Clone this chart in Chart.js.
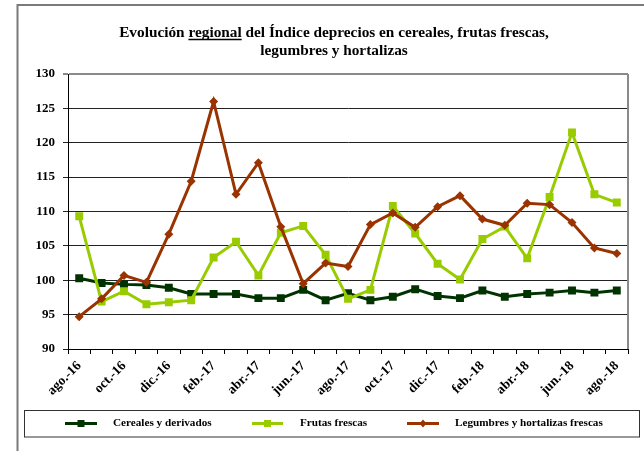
<!DOCTYPE html>
<html>
<head>
<meta charset="utf-8">
<script src="https://cdn.jsdelivr.net/npm/chart.js@4/dist/chart.umd.min.js"></script>
<style>
  html, body { margin: 0; padding: 0; background: #fff; }
  #wrap { width: 644px; height: 451px; position: relative; }
</style>
</head>
<body>
<div id="wrap"><canvas id="c" width="644" height="451"></canvas></div>
<script>
const titleLine1 = 'Evolución regional del Índice deprecios en cereales, frutas frescas,';
const titleLine2 = 'legumbres y hortalizas';
const underlinedWord = 'regional';

const months = ['ago.-16','sep.-16','oct.-16','nov.-16','dic.-16','ene.-17','feb.-17','mar.-17','abr.-17','may.-17','jun.-17','jul.-17','ago.-17','sep.-17','oct.-17','nov.-17','dic.-17','ene.-18','feb.-18','mar.-18','abr.-18','may.-18','jun.-18','jul.-18','ago.-18'];

const cereales  = [100.3, 99.6, 99.4, 99.3, 98.9, 98.0, 98.0, 98.0, 97.4, 97.4, 98.6, 97.1, 98.1, 97.1, 97.6, 98.7, 97.7, 97.4, 98.5, 97.6, 98.0, 98.2, 98.5, 98.2, 98.5];
const frutas    = [109.3, 96.9, 98.4, 96.5, 96.8, 97.1, 103.3, 105.6, 100.7, 106.9, 107.9, 103.7, 97.3, 98.6, 110.8, 106.8, 102.4, 100.1, 106.0, 107.8, 103.2, 112.1, 121.5, 112.5, 111.3];
const legumbres = [94.7, 97.3, 100.7, 99.7, 106.7, 114.4, 126.0, 112.5, 117.1, 107.8, 99.5, 102.5, 102.0, 108.1, 109.8, 107.7, 110.7, 112.3, 108.9, 108.0, 111.2, 111.0, 108.4, 104.7, 103.9];

const seriesNames = ['Cereales y derivados', 'Frutas frescas', 'Legumbres y hortalizas frescas'];
const yMin = 90, yMax = 130, yStep = 5;

const SERIF = '"Liberation Serif", "Times New Roman", serif';

const framePlugin = {
  id: 'frame',
  beforeDraw(chart) {
    const ctx = chart.ctx;
    ctx.save();
    ctx.fillStyle = '#fff';
    ctx.fillRect(0, 0, chart.width, chart.height);
    ctx.strokeStyle = '#7a7a7a';
    ctx.lineWidth = 2;
    ctx.beginPath();
    ctx.moveTo(17.5, chart.height + 2);
    ctx.lineTo(17.5, 5);
    ctx.lineTo(chart.width + 2, 5);
    ctx.stroke();
    ctx.restore();
  },
  afterDraw(chart) {
    const ctx = chart.ctx;
    const a = chart.chartArea;
    ctx.save();
    ctx.strokeStyle = '#8a8a8a';
    ctx.lineWidth = 2;
    ctx.beginPath();
    ctx.moveTo(a.right, a.top);
    ctx.lineTo(a.right, a.bottom);
    ctx.stroke();

    // title
    ctx.fillStyle = '#000';
    ctx.font = 'bold 15.3px ' + SERIF;
    ctx.textAlign = 'center';
    ctx.textBaseline = 'alphabetic';
    const cx = 334;
    ctx.fillText(titleLine1, cx, 37);
    ctx.fillText(titleLine2, cx, 55);
    const w1 = ctx.measureText(titleLine1).width;
    const idx = titleLine1.indexOf(underlinedWord);
    const pre = ctx.measureText(titleLine1.slice(0, idx)).width;
    const uw = ctx.measureText(underlinedWord).width;
    const ux = cx - w1 / 2 + pre;
    ctx.strokeStyle = '#000';
    ctx.lineWidth = 1.5;
    ctx.beginPath();
    ctx.moveTo(ux, 39.5);
    ctx.lineTo(ux + uw, 39.5);
    ctx.stroke();

    // legend
    ctx.strokeStyle = '#333';
    ctx.lineWidth = 1;
    ctx.strokeRect(24.5, 410.5, 615, 26.5);
    const items = [[65, 97, 113], [252, 283, 300], [407, 439, 455]];
    const ly = 423.5;
    chart.data.datasets.forEach((ds, i) => {
      const [x1, x2, tx] = items[i];
      ctx.strokeStyle = ds.borderColor;
      ctx.lineWidth = 3;
      ctx.beginPath();
      ctx.moveTo(x1, ly);
      ctx.lineTo(x2, ly);
      ctx.stroke();
      const mx = (x1 + x2) / 2;
      ctx.fillStyle = ds.borderColor;
      if (ds.pointStyle === 'rect') {
        ctx.fillRect(mx - 3.5, ly - 3.5, 7, 7);
      } else {
        ctx.beginPath();
        ctx.moveTo(mx, ly - 4);
        ctx.lineTo(mx + 3.5, ly);
        ctx.lineTo(mx, ly + 4);
        ctx.lineTo(mx - 3.5, ly);
        ctx.closePath();
        ctx.fill();
      }
      ctx.fillStyle = '#000';
      ctx.font = 'bold 11.2px ' + SERIF;
      ctx.textAlign = 'left';
      ctx.textBaseline = 'middle';
      ctx.fillText(ds.label, tx, ly);
    });
    ctx.restore();
  }
};

const colors = ['#003300', '#99cc00', '#993300'];

new Chart(document.getElementById('c'), {
  type: 'line',
  data: {
    labels: months,
    datasets: [
      { label: seriesNames[0], data: cereales, borderColor: colors[0], backgroundColor: colors[0],
        borderWidth: 3, pointStyle: 'rect', pointRadius: 5.6, pointBorderWidth: 0, order: 2, tension: 0 },
      { label: seriesNames[1], data: frutas, borderColor: colors[1], backgroundColor: colors[1],
        borderWidth: 3, pointStyle: 'rect', pointRadius: 5.6, pointBorderWidth: 0, order: 1, tension: 0 },
      { label: seriesNames[2], data: legumbres, borderColor: colors[2], backgroundColor: colors[2],
        borderWidth: 3, pointStyle: 'rectRot', pointRadius: 4.5, pointBorderWidth: 0, order: 0, tension: 0 }
    ]
  },
  options: {
    responsive: false,
    animation: false,
    events: [],
    layout: { padding: { top: 74, right: 16, left: 0, bottom: 0 } },
    plugins: {
      legend: { display: false },
      title: { display: false },
      tooltip: { enabled: false }
    },
    scales: {
      x: {
        type: 'category',
        offset: true,
        afterFit(scale) { scale.height = 102; },
        grid: { offset: true, drawOnChartArea: false, drawTicks: true, tickLength: 5, color: '#000', lineWidth: 1 },
        border: { display: true, color: '#000', width: 1 },
        ticks: {
          autoSkip: false,
          maxRotation: 45,
          minRotation: 45,
          padding: 4,
          color: '#000',
          font: { family: SERIF, size: 13.5, weight: 'bold' },
          callback: (v, i) => (i % 2 === 0 ? months[i] : '')
        }
      },
      y: {
        min: yMin,
        max: yMax,
        afterFit(scale) { scale.width = 68; },
        grid: {
          color: (c) => (c.tick && c.tick.value === yMax ? '#8a8a8a' : '#222'),
          lineWidth: (c) => (c.tick && c.tick.value === yMax ? 2 : 1),
          tickLength: 5,
          drawTicks: true
        },
        border: { display: true, color: '#000', width: 1 },
        ticks: {
          stepSize: yStep,
          padding: 8,
          color: '#000',
          font: { family: SERIF, size: 13, weight: 'bold' }
        }
      }
    }
  },
  plugins: [framePlugin]
});
</script>
</body>
</html>
